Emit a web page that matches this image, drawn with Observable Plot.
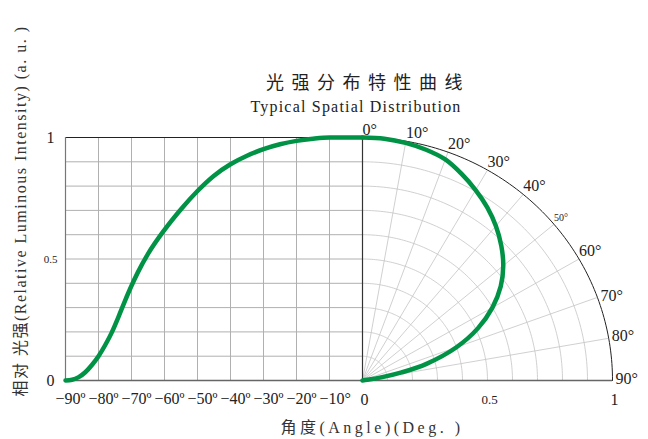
<!DOCTYPE html>
<html>
<head>
<meta charset="utf-8">
<script src="https://cdn.jsdelivr.net/npm/d3@7"></script>
<script src="https://cdn.jsdelivr.net/npm/@observablehq/plot@0.6"></script>
<style>
  body { margin: 0; background: #fff; }
  svg { font-family: "Liberation Serif", "Noto Sans CJK SC", serif; }
</style>
</head>
<body>
<div id="chart"></div>
<script>
// ---- data ----
// left panel: relative intensity vs angle (rectangular)
const leftAngles = [-90, -88, -86, -84, -82, -80, -78, -76, -74, -72, -70, -68, -65, -60, -55, -50, -45, -40, -35, -30, -25, -20, -15, -10, -5, 0];
const leftValues = [0, 0.003, 0.014, 0.034, 0.064, 0.10, 0.145, 0.197, 0.26, 0.327, 0.39, 0.447, 0.521, 0.62, 0.705, 0.78, 0.843, 0.89, 0.925, 0.952, 0.972, 0.986, 0.995, 1.0, 1.0, 1.0];
// right panel: polar distribution
const polarAngles = [0, 5, 10, 15, 20, 25, 30, 35, 40, 45, 50, 55, 60, 65, 70, 75, 78, 80, 82, 83];
const polarValues = [1.0, 0.999, 0.993, 0.983, 0.968, 0.938, 0.905, 0.87, 0.83, 0.785, 0.735, 0.675, 0.60, 0.51, 0.40, 0.265, 0.16, 0.085, 0.02, 0.0];
// ticks
const xTickAngles = [-90, -80, -70, -60, -50, -40, -30, -20, -10];
const xTickLabels = ["−90º", "−80º", "−70º", "−60º", "−50º", "−40º", "−30º", "−20º", "−10°"];
const rTicks = [0, 0.5, 1];
const rTickLabels = ["0", "0.5", "1"];
const yTicks = [0, 0.5, 1];
const yTickLabels = ["0", "0.5", "1"];
const polarLabelAngles = [0, 10, 20, 30, 40, 50, 60, 70, 80, 90];
const polarLabels = ["0°", "10°", "20°", "30°", "40°", "50°", "60°", "70°", "80°", "90°"];
const gridLeftAngles = [-80, -70, -60, -50, -40, -30, -20, -10];
const gridY = [0.1, 0.2, 0.3, 0.4, 0.5, 0.6, 0.7, 0.8, 0.9];
const gridR = [0.1, 0.2, 0.3, 0.4, 0.5, 0.6, 0.7, 0.8, 0.9];
const gridRays = [10, 20, 30, 40, 50, 60, 70, 80];

const titleCN = "光强分布特性曲线";
const titleEN = "Typical Spatial Distribution";
const yLabel = "相对 光强(Relative Luminous Intensity) (a. u. )";
const xLabel = "角度(Angle)(Deg. )";

// ---- layout helpers ----
const LEFT_SPAN = 297 / 250; // width of the angle panel relative to the polar radius
const pos = a => a / 90 * LEFT_SPAN;
const rad = d => d * Math.PI / 180;

const leftData = leftAngles.map((a, i) => ({x: pos(a), y: leftValues[i]}));
const polarData = polarAngles.map((a, i) => ({x: polarValues[i] * Math.sin(rad(a)), y: polarValues[i] * Math.cos(rad(a))}));
const arcPts = r => d3.range(0, 90.5, 1).map(t => ({r, x: r * Math.sin(rad(t)), y: r * Math.cos(rad(t))}));
const arcs = gridR.flatMap(arcPts);
const outerArc = arcPts(1);
const rays = gridRays.map(t => ({x: Math.sin(rad(t)), y: Math.cos(rad(t))}));
const plA = polarLabelAngles.map((t, i) => ({t, label: polarLabels[i], x: Math.sin(rad(t)), y: Math.cos(rad(t))}));

const GREEN = "#009245";

const chart = Plot.plot({
  width: 648,
  height: 439,
  marginLeft: 65,
  marginRight: 36,
  marginTop: 137,
  marginBottom: 59,
  x: {domain: [pos(-90), 1], axis: null},
  y: {domain: [0, 1], axis: null},
  marks: [
    // left grid
    Plot.ruleX(gridLeftAngles, {x: pos, y1: 0, y2: 1, stroke: "#b0b0b0", strokeWidth: 1}),
    Plot.ruleY(gridY, {y: d => d, x1: pos(-90), x2: 0, stroke: "#b0b0b0", strokeWidth: 1}),
    // polar grid
    Plot.line(arcs, {x: "x", y: "y", z: "r", stroke: "#c4c4c4", strokeWidth: 0.8}),
    Plot.link(rays, {x1: 0, y1: 0, x2: "x", y2: "y", stroke: "#c4c4c4", strokeWidth: 0.8}),
    Plot.line(outerArc, {x: "x", y: "y", stroke: "#222", strokeWidth: 1}),
    // frame lines
    Plot.ruleY([1], {x1: pos(-90), x2: 0, stroke: "#222", strokeWidth: 1.2}),
    Plot.ruleX([pos(-90)], {y1: 0, y2: 1, stroke: "#777", strokeWidth: 1.2}),
    Plot.ruleX([0], {y1: 0, y2: 1, stroke: "#333", strokeWidth: 1.2}),
    Plot.ruleY([0], {x1: pos(-90), x2: 1, stroke: "#666", strokeWidth: 1.5}),
    // curves
    Plot.line(leftData, {x: "x", y: "y", stroke: GREEN, strokeWidth: 4.5, curve: "monotone-x"}),
    Plot.line(polarData, {x: "x", y: "y", stroke: GREEN, strokeWidth: 4.5, curve: "catmull-rom"}),
    // x tick labels (angles)
    Plot.text(xTickAngles, {x: pos, y: 0, text: (d, i) => xTickLabels[i], textAnchor: "start", dx: -10, dy: 18, fontSize: 16, fill: "#222"}),
    // radial tick labels
    Plot.text(rTicks, {x: d => d, y: 0, text: (d, i) => rTickLabels[i], dy: 19, dx: 2, fontSize: d => d === 0.5 ? 13 : 16, fill: "#222"}),
    // y tick labels
    Plot.text(yTicks, {x: pos(-90), y: d => d, text: (d, i) => yTickLabels[i], dx: -15, fontSize: d => d === 0.5 ? 11 : 16, fill: "#222"}),
    // polar angle labels
    Plot.text(plA.filter(d => d.t <= 60), {x: "x", y: "y", text: "label", textAnchor: "start", lineAnchor: "bottom", dx: 0, dy: -3, fontSize: d => d.t === 50 ? 10 : 16, fill: "#222"}),
    Plot.text(plA.filter(d => d.t > 60), {x: "x", y: "y", text: "label", textAnchor: "start", lineAnchor: "middle", dx: 3, dy: -2, fontSize: 16, fill: "#222"}),
    // titles and axis labels
    Plot.text([titleCN], {frameAnchor: "top", textAnchor: "middle", lineAnchor: "middle", dx: 29, dy: -54, fontSize: 18, fill: "#222"}),
    Plot.text([titleEN], {frameAnchor: "top", textAnchor: "middle", lineAnchor: "middle", dx: 17, dy: -31, fontSize: 16, fill: "#222"}),
    Plot.text([yLabel], {frameAnchor: "left", textAnchor: "middle", lineAnchor: "middle", rotate: -90, dx: -45, dy: -48, fontSize: 16, fill: "#333"}),
    Plot.text([xLabel], {frameAnchor: "bottom", textAnchor: "middle", lineAnchor: "middle", dx: 33, dy: 47, fontSize: 16, fill: "#333"})
  ]
});
// letter spacing of the spaced-out titles
const spacing = new Map([[titleCN, 7.5], [titleEN, 1.2], [yLabel, 1.5], [xLabel, 3.5]]);
d3.select(chart).selectAll("text").each(function() {
  const s = spacing.get(this.textContent);
  if (s != null) this.setAttribute("letter-spacing", s);
});
document.getElementById("chart").appendChild(chart);
</script>
</body>
</html>
